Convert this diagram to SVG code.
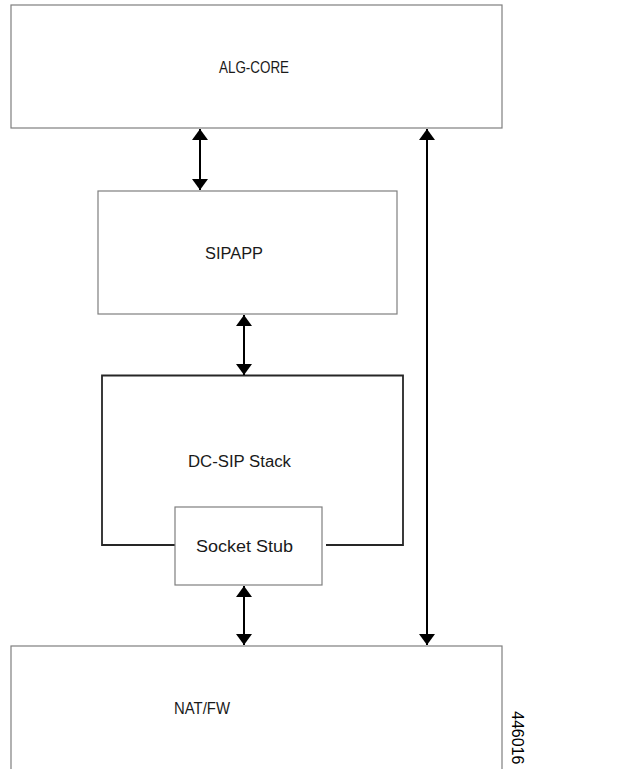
<svg xmlns="http://www.w3.org/2000/svg" width="641" height="769" viewBox="0 0 641 769">
<style>
.box{fill:#fff;stroke:#7f7f7f;stroke-width:1.2}
.lbl{font-family:"Liberation Sans","Open Sans",sans-serif;font-size:16px;fill:#1a1a1a}
.con{stroke:#000;stroke-width:2;fill:none}
.stack{fill:none;stroke:#262626;stroke-width:1.8}
</style>
<defs>
<marker id="ah" viewBox="0 0 11 16" refX="11" refY="8" markerWidth="11" markerHeight="16" markerUnits="userSpaceOnUse" orient="auto-start-reverse">
<path d="M0,0 L11,8 L0,16 Z" fill="#000"/>
</marker>
</defs>
<rect width="641" height="769" fill="#fff"/>
<g id="alg-core">
<rect class="box" x="11" y="5" width="491" height="123"/>
<text class="lbl" x="219" y="73" textLength="70" lengthAdjust="spacingAndGlyphs">ALG-CORE</text>
</g>
<g id="sipapp">
<rect class="box" x="98" y="191" width="299" height="123"/>
<text class="lbl" x="205" y="259" textLength="58" lengthAdjust="spacingAndGlyphs">SIPAPP</text>
</g>
<g id="dc-sip-stack">
<path class="stack" d="M180,545 L102,545 L102,375.5 L403,375.5 L403,545 L326,545"/>
<text class="lbl" x="188" y="467" textLength="103" lengthAdjust="spacingAndGlyphs">DC-SIP Stack</text>
</g>
<g id="socket-stub">
<rect class="box" x="175" y="507" width="147" height="78"/>
<text class="lbl" x="196" y="552" textLength="97" lengthAdjust="spacingAndGlyphs">Socket Stub</text>
</g>
<g id="nat-fw">
<rect class="box" x="11" y="646" width="491" height="130"/>
<text class="lbl" x="174" y="714" textLength="56" lengthAdjust="spacingAndGlyphs">NAT/FW</text>
</g>
<g id="connectors">
<line class="con" x1="200" y1="129" x2="200" y2="190" marker-start="url(#ah)" marker-end="url(#ah)"/>
<line class="con" x1="244" y1="315" x2="244" y2="375" marker-start="url(#ah)" marker-end="url(#ah)"/>
<line class="con" x1="244" y1="586" x2="244" y2="645" marker-start="url(#ah)" marker-end="url(#ah)"/>
<line class="con" x1="427" y1="129" x2="427" y2="645" marker-start="url(#ah)" marker-end="url(#ah)"/>
</g>
<text id="figid" transform="translate(512,711) rotate(90)" font-family="'Liberation Sans',sans-serif" font-size="16" fill="#000">446016</text>
</svg>
